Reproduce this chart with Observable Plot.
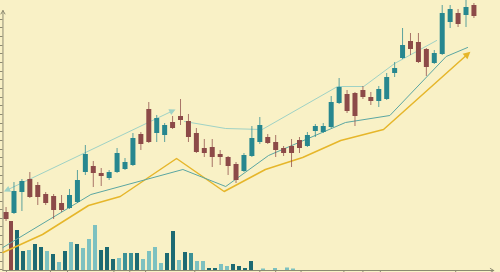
<!DOCTYPE html>
<html><head><meta charset="utf-8">
<script src="https://cdn.jsdelivr.net/npm/d3@7"></script>
<script src="https://cdn.jsdelivr.net/npm/@observablehq/plot@0.6"></script>
<style>
html,body{margin:0;padding:0;background:#f9f1c6;}
#wrap{position:relative;width:500px;height:272px;overflow:hidden;background:#f9f1c6;}
#wrap svg{position:absolute;left:0;top:0;}
</style></head><body><div id="wrap"></div>
<script>
// ---- candle data (index 0..59) ----
const opens  = [88,87,108,121,115,106,104,97,92,98,128,134,127,122,128,131,135,166,191,167,165,178,184,179,167,152,153,146,143,136,129,144,158,163,158,152,154,160,154,169,168,173,197,206,207,210,203,199,201,227,242,259,258,251,237,246,278,287,285,295];
const closes = [81,109,119,103,103,97,90,90,105,120,146,127,124,128,147,138,162,156,158,182,175,172,180,163,148,147,143,143,134,120,145,162,175,157,150,147,147,152,165,174,174,198,213,189,184,203,199,211,223,232,255,251,238,233,247,287,291,276,293,284];
const highs  = [93,118,121,128,118,108,106,105,111,130,155,139,132,130,152,142,167,168,198,185,177,184,201,186,172,161,161,150,144,138,147,174,183,166,165,154,161,163,168,176,177,204,222,210,208,214,208,214,227,238,272,267,267,252,250,295,295,291,300,297];
const lows   = [79,86,89,102,95,95,81,88,91,97,125,113,114,120,127,130,134,150,157,158,158,171,175,158,147,143,133,135,125,117,128,143,156,156,143,144,133,147,153,163,167,172,196,187,174,201,195,193,200,223,241,245,237,224,236,245,272,273,273,282];

// ---- volume data ----
const volumes   = [49,40,19,20,26,23,19,16,8,19,28,26,22,31,45,20,23,11,12,17,17,17,11,19,23,7,17,39,10,18,17,9,9,2,2,6,4,6,4,2,9,0,1.5,0,2,0,2.5,1.5];
const volKinds  = ["red","dark","dark","light","dark","dark","light","dark","light","dark","light","dark","light","light","light","dark","dark","dark","light","mid","mid","dark","light","light","light","light","dark","dark","light","dark","mid","light","light","dark","dark","light","light","dark","dark","dark","dark","light","light","light","light","light","light","light"];
const volumeSlots = 80;

// ---- overlay lines (index, price) ----
const yellowX = [-0.39,4.6,10.4,14.4,21.5,27.5,32.7,37.4,42.2,47.6,58.3];
const yellowY = [48,66,95,104,142,109,131,143,160,171,247];
const tealX   = [-0.39,10.7,22.3,27.7,33.1,42.8,48.4,55.5,58.2];
const tealY   = [53,106,131,114,145,178,185,244,253];
const trendX  = [0,21.1];
const trendY  = [110,190];
const mintX   = [22.5,27.7,32.3,41.8,45.1,49,54.3];
const mintY   = [179,172,171,214,214,237,260];

// ---- axis ticks ----
const yTickValues = [31,39,48,56,65,74,82,91,99,108,117,125,134,143,151,160,169,177,186,195,203,212,221,229,238,247,255,264,273,281];
const xTickValues = [0.05,5.6,7.75,13.6,15.6,17.6,23.8,32,34,37.2,42.6,45,47.2,56.7];

const candles = opens.map((o, i) => ({i, open: o, close: closes[i], high: highs[i], low: lows[i], up: closes[i] >= o}));
const vols = volumes.map((v, i) => ({i, v, kind: volKinds[i]}));
const yellow = yellowX.map((x, k) => ({x, y: yellowY[k]}));
const teal = tealX.map((x, k) => ({x, y: tealY[k]}));
const trend = trendX.map((x, k) => ({x, y: trendY[k]}));
const mint = mintX.map((x, k) => ({x, y: mintY[k]}));

const UP = "#27878f", DOWN = "#8c4a48", AXIS = "#8d8a72";
const xDomain = [-0.7, 62.35], yDomain = [28, 300];
const yAxisAt = -0.39, xAxisAt = 30, xEnd = 61.5, yEnd = 290;

function triMarker(orient, size) {
  return (color, context) => {
    const m = d3.create("svg:marker")
      .attr("viewBox", "-6 -5 10 10")
      .attr("markerWidth", size).attr("markerHeight", size)
      .attr("markerUnits", "userSpaceOnUse")
      .attr("orient", orient)
      .attr("fill", color).attr("stroke", "none");
    m.append("path").attr("d", "M-5,-4L3,0L-5,4Z");
    return m.node();
  };
}

const volPlot = Plot.plot({
  width: 500, height: 272,
  marginLeft: 0, marginRight: 4, marginTop: 0, marginBottom: 2,
  style: {background: "transparent", overflow: "visible"},
  x: {type: "band", domain: d3.range(volumeSlots), padding: 0.27, axis: null},
  y: {domain: [0, 270], axis: null},
  color: {domain: ["red","dark","mid","light"], range: ["#8c4a48","#1d6a72","#3c9196","#7dc1c0"]},
  marks: [
    Plot.barY(vols, {x: "i", y: "v", fill: "kind"})
  ]
});

const mainPlot = Plot.plot({
  width: 500, height: 272,
  marginLeft: 0, marginRight: 0, marginTop: 0, marginBottom: 0,
  style: {background: "transparent", overflow: "visible"},
  x: {domain: xDomain, axis: null},
  y: {domain: yDomain, axis: null},
  marks: [
    Plot.axisY({ticks: yTickValues, tickSize: 3, tickFormat: () => "", label: null, stroke: AXIS, dx: 2.5}),
    Plot.axisX({ticks: xTickValues, tickSize: 2, tickFormat: () => "", label: null, stroke: AXIS, dy: -2}),
    Plot.arrow([{x1: yAxisAt, y1: xAxisAt, x2: yAxisAt, y2: yEnd}], {x1: "x1", y1: "y1", x2: "x2", y2: "y2", stroke: AXIS, strokeWidth: 1, headLength: 6}),
    Plot.arrow([{x1: yAxisAt, y1: xAxisAt, x2: xEnd, y2: xAxisAt}], {x1: "x1", y1: "y1", x2: "x2", y2: "y2", stroke: AXIS, strokeWidth: 1, headLength: 6}),
    Plot.line(yellow, {x: "x", y: "y", stroke: "#e6b62a", strokeWidth: 1.5, markerEnd: triMarker("auto", 9)}),
    Plot.line(teal, {x: "x", y: "y", stroke: "#5ba6a2", strokeWidth: 1}),
    Plot.line(trend, {x: "x", y: "y", stroke: "#9fd2c5", strokeWidth: 1, markerStart: triMarker("auto-start-reverse", 8), markerEnd: triMarker("auto", 8)}),
    Plot.line(mint, {x: "x", y: "y", stroke: "#9fd2c5", strokeWidth: 1}),
    Plot.ruleX(candles, {x: "i", y1: "low", y2: "high", stroke: d => d.up ? UP : DOWN, strokeOpacity: 0.75, strokeWidth: 1}),
    Plot.ruleX(candles, {x: "i", y1: "open", y2: "close", stroke: d => d.up ? UP : DOWN, strokeWidth: 5})
  ]
});

const wrap = document.getElementById("wrap");
wrap.appendChild(volPlot);
wrap.appendChild(mainPlot);
</script>
</body></html>
